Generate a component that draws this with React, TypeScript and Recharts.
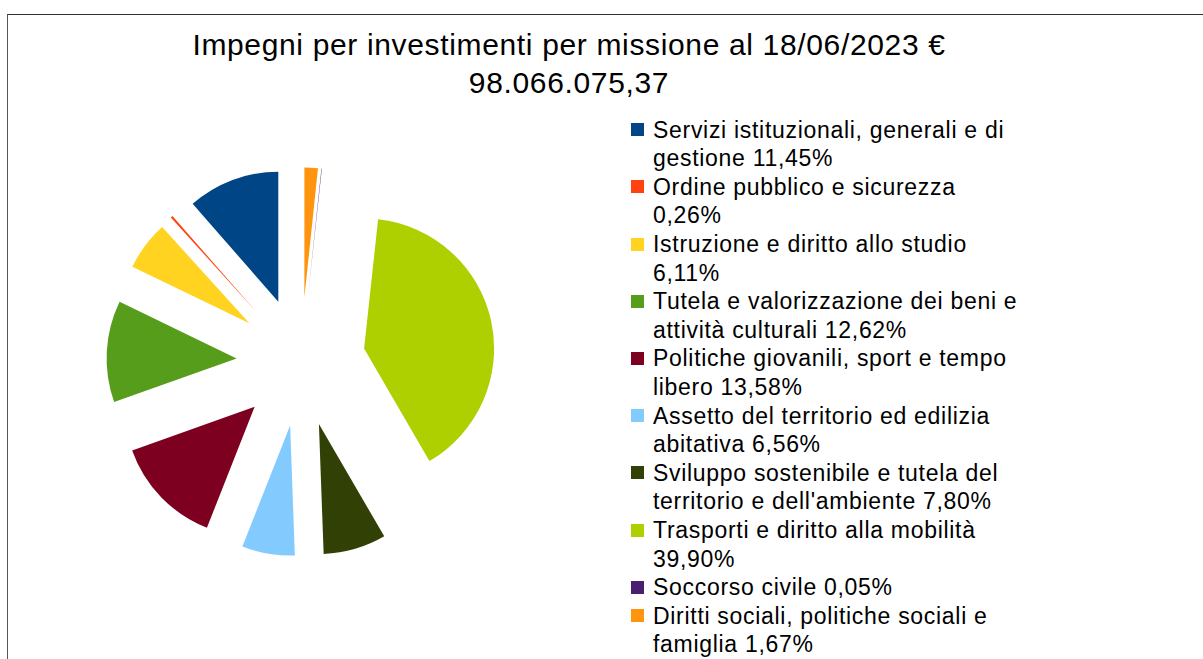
import React from 'react';
import { PieChart, Pie, Cell, Sector, Legend } from 'recharts';

// missions, share of commitments in %
const missions = [
  'Servizi istituzionali, generali e di gestione',
  'Ordine pubblico e sicurezza',
  'Istruzione e diritto allo studio',
  'Tutela e valorizzazione dei beni e attività culturali',
  'Politiche giovanili, sport e tempo libero',
  'Assetto del territorio ed edilizia abitativa',
  'Sviluppo sostenibile e tutela del territorio e dell\'ambiente',
  'Trasporti e diritto alla mobilità',
  'Soccorso civile',
  'Diritti sociali, politiche sociali e famiglia',
];

const shares = [11.45, 0.26, 6.11, 12.62, 13.58, 6.56, 7.8, 39.9, 0.05, 1.67];

const colors = [
  '#004586', '#ff420e', '#ffd320', '#579d1c', '#7e0021',
  '#83caff', '#314004', '#aecf00', '#4b1f6f', '#ff950e',
];

// legend text as wrapped in the original
const legendLines = [
  ['Servizi istituzionali, generali e di', 'gestione 11,45%'],
  ['Ordine pubblico e sicurezza', '0,26%'],
  ['Istruzione e diritto allo studio', '6,11%'],
  ['Tutela e valorizzazione dei beni e', 'attività culturali 12,62%'],
  ['Politiche giovanili, sport e tempo', 'libero 13,58%'],
  ['Assetto del territorio ed edilizia', 'abitativa 6,56%'],
  ['Sviluppo sostenibile e tutela del', 'territorio e dell\'ambiente 7,80%'],
  ['Trasporti e diritto alla mobilità', '39,90%'],
  ['Soccorso civile 0,05%'],
  ['Diritti sociali, politiche sociali e', 'famiglia 1,67%'],
];

const titleLines = ['Impegni per investimenti per missione al 18/06/2023 €', '98.066.075,37'];

const data = missions.map((name, i) => ({ name, value: shares[i] }));

const FONT = '"Liberation Sans", Arial, sans-serif';
const RADIAN = Math.PI / 180;
const EXPLODE = 64.5;

function ExplodedSlice(props: any) {
  const { cx, cy, midAngle, innerRadius, outerRadius, startAngle, endAngle, fill } = props;
  const dx = EXPLODE * Math.cos(-midAngle * RADIAN);
  const dy = EXPLODE * Math.sin(-midAngle * RADIAN);
  return (
    <Sector
      cx={cx + dx}
      cy={cy + dy}
      innerRadius={innerRadius}
      outerRadius={outerRadius}
      startAngle={startAngle}
      endAngle={endAngle}
      fill={fill}
      stroke="none"
    />
  );
}

function MissionLegend() {
  // keep the data order of the original legend
  return (
    <div
      style={{
        fontFamily: FONT,
        fontSize: 23,
        lineHeight: '28.6px',
        letterSpacing: 0.7,
        color: '#000',
      }}
    >
      {missions.map((name, i) => (
        <div key={name} style={{ position: 'relative', paddingLeft: 28 }}>
          <span
            style={{
              position: 'absolute',
              left: 6,
              top: 7.5,
              width: 13,
              height: 13,
              background: colors[i],
            }}
          />
          {legendLines[i].map((line, j) => (
            <div key={j} style={{ whiteSpace: 'nowrap' }}>{line}</div>
          ))}
        </div>
      ))}
    </div>
  );
}

export default function App() {
  return (
    <div
      style={{
        position: 'absolute',
        left: 0,
        top: 0,
        width: 1203,
        height: 659,
        overflow: 'hidden',
        background: '#fff',
      }}
    >
      <div
        style={{
          position: 'absolute',
          left: 7,
          top: 14,
          width: 1300,
          height: 800,
          borderLeft: '1px solid #555',
          borderTop: '1px solid #333',
        }}
      />
      <div
        style={{
          position: 'absolute',
          left: 169,
          top: 26,
          width: 800,
          textAlign: 'center',
          fontFamily: FONT,
          fontSize: 30,
          lineHeight: '38px',
          letterSpacing: 0.65,
          color: '#000',
        }}
      >
        {titleLines.map((t, i) => (
          <div key={i}>{t}</div>
        ))}
      </div>
      <PieChart width={1203} height={659} margin={{ top: 0, right: 0, bottom: 0, left: 0 }}>
        <Pie
          data={data}
          dataKey="value"
          nameKey="name"
          cx={301}
          cy={362}
          innerRadius={0}
          outerRadius={130}
          startAngle={90}
          endAngle={450}
          stroke="none"
          shape={ExplodedSlice}
          isAnimationActive={false}
        >
          {data.map((d, i) => (
            <Cell key={d.name} fill={colors[i]} />
          ))}
        </Pie>
        <Legend
          layout="vertical"
          align="right"
          verticalAlign="top"
          content={<MissionLegend />}
          wrapperStyle={{ left: 625, top: 115.7, width: 420, right: 'auto' }}
        />
      </PieChart>
    </div>
  );
}
